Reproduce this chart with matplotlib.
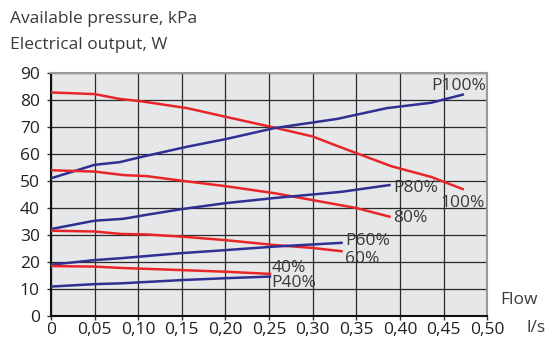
import matplotlib
import matplotlib.pyplot as plt

matplotlib.rcParams['font.family'] = ['Open Sans', 'DejaVu Sans']

# flow, l/s  and  pressure kPa / power W
flow_100 = [0, 0.05, 0.079, 0.102, 0.156, 0.2, 0.256, 0.3, 0.328, 0.39, 0.436, 0.472]
pres_100 = [82.8, 82.2, 80.4, 79.6, 77.0, 73.8, 69.8, 66.5, 63.0, 55.5, 51.5, 47.0]
flow_p100 = [0, 0.05, 0.079, 0.102, 0.156, 0.2, 0.256, 0.328, 0.385, 0.436, 0.472]
pow_p100 = [51.0, 56.0, 57.0, 58.8, 62.7, 65.5, 69.6, 73.0, 77.0, 79.0, 82.0]

flow_80 = [0, 0.05, 0.083, 0.11, 0.15, 0.2, 0.256, 0.35, 0.388]
pres_80 = [54.0, 53.5, 52.2, 51.8, 50.1, 48.1, 45.5, 40.0, 36.8]
flow_p80 = [0, 0.05, 0.083, 0.11, 0.15, 0.2, 0.256, 0.333, 0.388]
pow_p80 = [32.2, 35.3, 36.0, 37.5, 39.6, 41.8, 43.7, 46.0, 48.5]

flow_60 = [0, 0.05, 0.08, 0.11, 0.15, 0.2, 0.256, 0.3, 0.333]
pres_60 = [31.6, 31.3, 30.4, 30.2, 29.4, 28.1, 26.3, 25.2, 24.0]
flow_p60 = [0, 0.05, 0.08, 0.15, 0.2, 0.256, 0.333]
pow_p60 = [19.0, 20.7, 21.4, 23.3, 24.4, 25.7, 27.1]

flow_40 = [0, 0.05, 0.08, 0.15, 0.2, 0.251]
pres_40 = [18.5, 18.3, 17.8, 17.0, 16.4, 15.6]
flow_p40 = [0, 0.05, 0.08, 0.15, 0.2, 0.251]
pow_p40 = [10.9, 11.8, 12.1, 13.3, 14.0, 14.6]

# label text and anchor (flow, value)
labels = ['P100%', '100%', 'P80%', '80%', 'P60%', '60%', '40%', 'P40%']
label_x = [0.436, 0.446, 0.392, 0.392, 0.337, 0.337, 0.253, 0.253]
label_y = [85.3, 42.0, 47.4, 36.3, 27.8, 21.0, 17.8, 12.2]

xticks = [0, 0.05, 0.10, 0.15, 0.20, 0.25, 0.30, 0.35, 0.40, 0.45, 0.50]
xtick_labels = ['0', '0,05', '0,10', '0,15', '0,20', '0,25', '0,30', '0,35', '0,40', '0,45', '0,50']
yticks = [0, 10, 20, 30, 40, 50, 60, 70, 80, 90]

red = '#e8262a'
blue = '#2e3192'
txt = '#3a3a3a'
fs = 12.5

fig = plt.figure(figsize=(5.48, 3.40), dpi=100)
ax = fig.add_axes([0.093, 0.0706, 0.796, 0.7146])
ax.set_facecolor('#e6e7e9')

ax.plot(flow_100, pres_100, color=red, lw=1.8, zorder=3)
ax.plot(flow_p100, pow_p100, color=blue, lw=1.8, zorder=3)
ax.plot(flow_80, pres_80, color=red, lw=1.8, zorder=3)
ax.plot(flow_p80, pow_p80, color=blue, lw=1.8, zorder=3)
ax.plot(flow_60, pres_60, color=red, lw=1.8, zorder=3)
ax.plot(flow_p60, pow_p60, color=blue, lw=1.8, zorder=3)
ax.plot(flow_40, pres_40, color=red, lw=1.8, zorder=3)
ax.plot(flow_p40, pow_p40, color=blue, lw=1.8, zorder=3)

for t, x, y in zip(labels, label_x, label_y):
    ax.text(x, y, t, fontsize=fs, color=txt, va='center', ha='left', zorder=4)

ax.set_xlim(0, 0.5)
ax.set_ylim(0, 90)
ax.set_xticks(xticks)
ax.set_xticklabels(xtick_labels)
ax.set_yticks(yticks)
ax.grid(True, color='#2a2a2a', lw=0.9)
ax.set_axisbelow(True)
ax.tick_params(labelsize=fs, labelcolor='#222222', length=3, width=1, color='#333333')
ax.tick_params(axis='x', pad=1)
ax.tick_params(axis='y', pad=5)

ax.spines['left'].set_color('#111111')
ax.spines['left'].set_linewidth(1.5)
ax.spines['bottom'].set_color('#111111')
ax.spines['bottom'].set_linewidth(1.5)
ax.spines['top'].set_color('#999999')
ax.spines['top'].set_linewidth(1.5)
ax.spines['right'].set_color('#999999')
ax.spines['right'].set_linewidth(1.5)

fig.text(10 / 548, 1 - 19 / 340, 'Available pressure, kPa', fontsize=fs, color=txt, va='center')
fig.text(10 / 548, 1 - 45 / 340, 'Electrical output, W', fontsize=fs, color=txt, va='center')
fig.text(500 / 548, 1 - 300 / 340, 'Flow', fontsize=fs, color=txt, va='center')
fig.text(527 / 548, 1 - 328 / 340, 'l/s', fontsize=fs, color=txt, va='center')

plt.savefig('out.png', dpi=100)
